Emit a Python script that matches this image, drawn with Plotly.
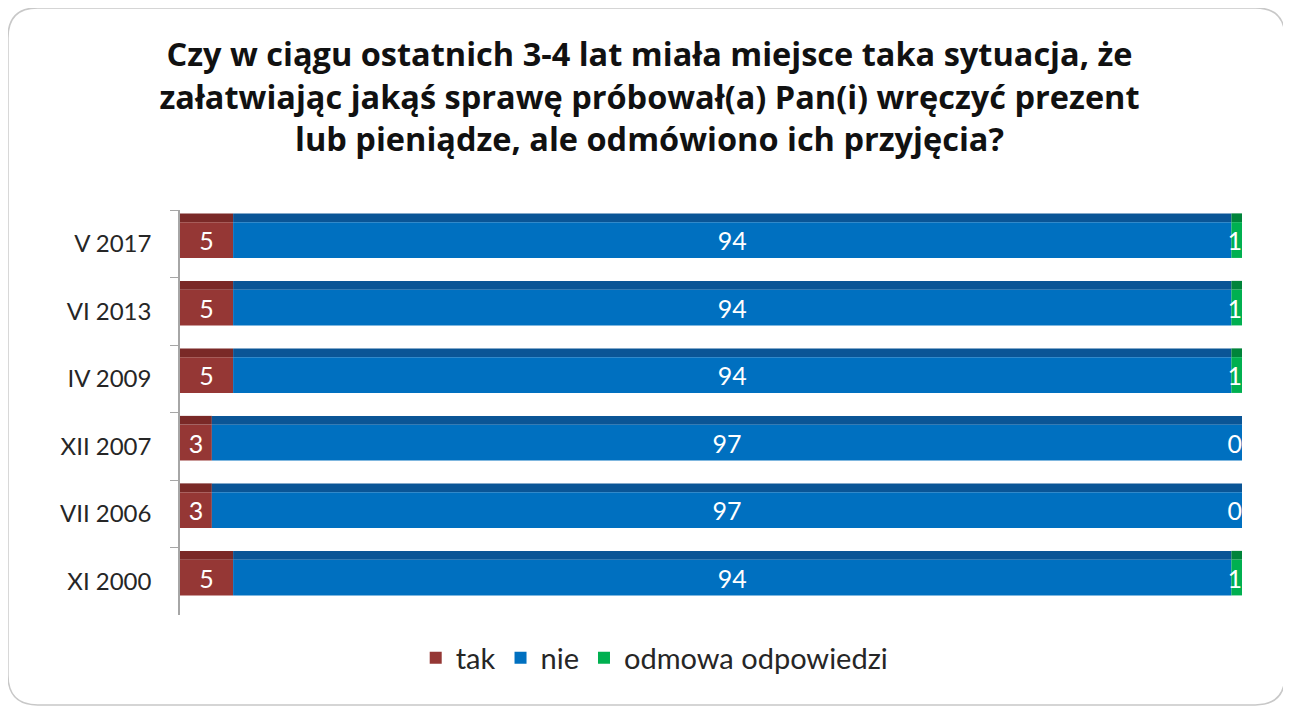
import plotly.graph_objects as go

# survey waves, top to bottom
fale = ['V 2017', 'VI 2013', 'IV 2009', 'XII 2007', 'VII 2006', 'XI 2000']
tak = [5, 5, 5, 3, 3, 5]
nie = [94, 94, 94, 97, 97, 94]
odmowa = [1, 1, 1, 0, 0, 1]

tytul = ('Czy w ciągu ostatnich 3-4 lat miała miejsce taka sytuacja, że<br>'
         'załatwiając jakąś sprawę próbował(a) Pan(i) wręczyć prezent<br>'
         'lub pieniądze, ale odmówiono ich przyjęcia?')

serie = [
    ('tak', tak, '#953735', '#7a2927'),
    ('nie', nie, '#0070c0', '#0a5596'),
    ('odmowa odpowiedzi', odmowa, '#00b050', '#00843a'),
]

FONT = 'Lato'

fig = go.Figure()
base = [0] * len(fale)
for name, vals, col, dark in serie:
    # darker "top face" to fake the 3d look of the original
    fig.add_trace(go.Bar(y=fale, x=vals, base=base, orientation='h',
                         marker=dict(color=dark, line=dict(width=0)),
                         width=0.13, offset=-0.45, showlegend=False,
                         hoverinfo='skip'))
    show_txt = name != 'odmowa odpowiedzi'
    fig.add_trace(go.Bar(y=fale, x=vals, base=base, orientation='h', name=name,
                         marker=dict(color=col, line=dict(width=0)),
                         width=0.53, offset=-0.32,
                         text=[str(v) for v in vals] if show_txt else None,
                         textposition='inside', insidetextanchor='middle',
                         textangle=0, constraintext='none',
                         textfont=dict(color='white', size=25, family=FONT)))
    base = [b + v for b, v in zip(base, vals)]

# labels for the tiny last segment sit at the right end of the bar
fig.add_trace(go.Scatter(y=fale, x=base, mode='text', text=[str(v) for v in odmowa],
                         textposition='middle left', showlegend=False, hoverinfo='skip',
                         textfont=dict(color='white', size=25, family=FONT)))

# page body has an 8px margin, so the figure is a bit smaller than the window
fig.update_layout(
    barmode='overlay',
    width=1283, height=704,
    paper_bgcolor='white', plot_bgcolor='white',
    margin=dict(l=172, r=49, t=202, b=97),
    font=dict(family=FONT, color='#262626'),
    title=dict(text=tytul, x=0.5, xanchor='center', y=0.917, yanchor='top',
               font=dict(size=32.5, family='Open Sans', color='#111111', weight='bold')),
    legend=dict(orientation='h', x=0.447, xanchor='center', y=-0.106, yanchor='middle',
                font=dict(size=29, family=FONT), traceorder='normal'),
    showlegend=True,
)
fig.update_xaxes(range=[0, 100], visible=False, showgrid=False)
fig.update_yaxes(autorange='reversed', showgrid=False, showline=True, linecolor='#a6a6a6',
                 linewidth=1.5, ticks='outside', tickson='boundaries', ticklen=8,
                 tickcolor='#a6a6a6', tickfont=dict(size=24, family=FONT, color='#262626'),
                 ticklabelstandoff=22)

# rounded frame around the whole chart
x0, x1 = -0.162, 1.0405
y0, y1 = -0.222, 1.499
rx, ry = 0.028, 0.074
path = (f'M {x0+rx},{y1} L {x1-rx},{y1} Q {x1},{y1} {x1},{y1-ry} '
        f'L {x1},{y0+ry} Q {x1},{y0} {x1-rx},{y0} L {x0+rx},{y0} '
        f'Q {x0},{y0} {x0},{y0+ry} L {x0},{y1-ry} Q {x0},{y1} {x0+rx},{y1} Z')
fig.add_shape(type='path', path=path, xref='paper', yref='paper',
              line=dict(color='#c8c8c8', width=1.5), layer='below')

fig.write_html('out.html')
